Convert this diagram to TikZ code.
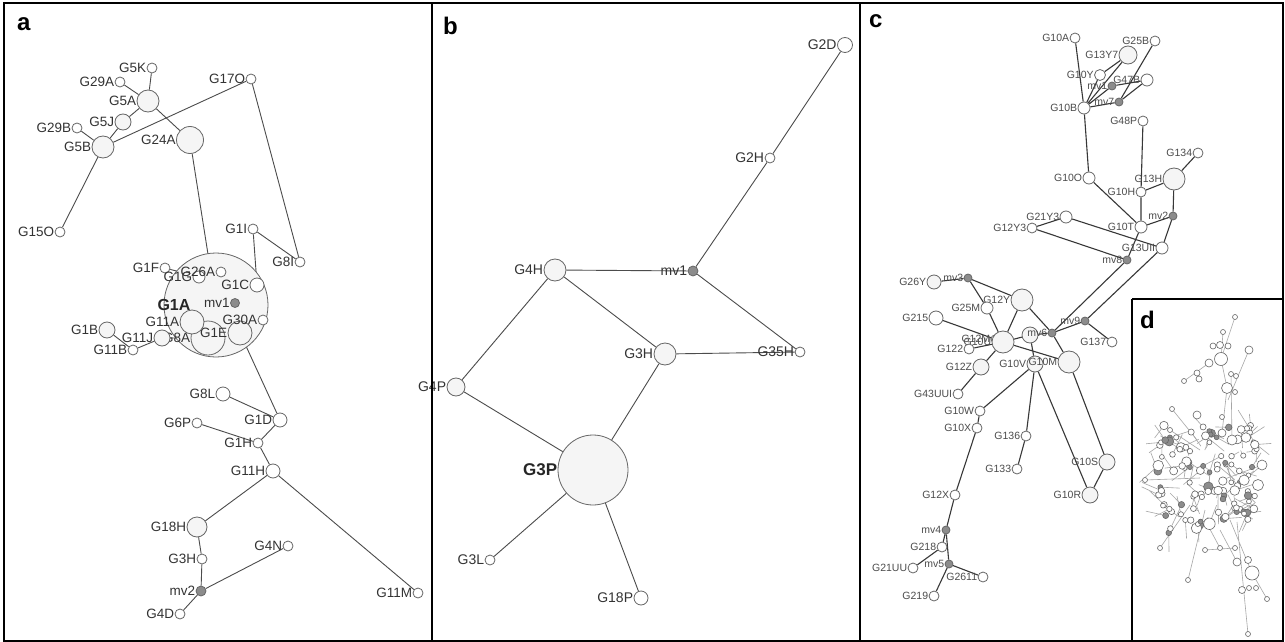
\documentclass[tikz,border=0pt]{standalone}
\usepackage{fontspec}
\setmainfont{Liberation Sans}
\usetikzlibrary{backgrounds}
\begin{document}
\begin{tikzpicture}[x=1pt,y=-1pt,
  nd/.style={circle,draw=black!60,line width=0.8pt,fill=white,inner sep=0pt,minimum size=#1},
  bg/.style={nd=#1,fill=black!4},
  mv/.style={nd=#1,fill=black!45},
  la/.style={font=\fontsize{13.5}{14}\selectfont,text=black!80,inner sep=0.3pt},
  lb/.style={font=\fontsize{14}{15}\selectfont,text=black!80,inner sep=0.3pt},
  lc/.style={font=\fontsize{10.5}{11}\selectfont,text=black!70,inner sep=0.3pt},
  ed/.style={draw=black!70,line width=0.9pt},
  edc/.style={draw=black!78,line width=1.1pt},
  dl/.style={draw=black!35,line width=0.6pt},
  dn/.style={draw=black!60,line width=0.6pt},
  frame/.style={draw=black,line width=2.5pt},
  letter/.style={font=\bfseries\fontsize{24}{26}\selectfont,anchor=base west,inner sep=0pt}]
\useasboundingbox (0,0) rectangle (1285,642);
\begin{scope}[on background layer]
\fill[white] (0,0) rectangle (1285,642);
\end{scope}

% ---------------- panel a ----------------
\node[nd=10pt,label={[la]left:G5K}] (a5K) at (152,68) {};
\node[nd=10pt,label={[la]left:G29A}] (a29A) at (120,82) {};
\node[bg=22pt,label={[la]left:G5A}] (a5A) at (148,101) {};
\node[bg=16pt,label={[la]left:G5J}] (a5J) at (123,122) {};
\node[nd=10pt,label={[la]left:G29B}] (a29B) at (77,128) {};
\node[bg=22pt,label={[la]left:G5B}] (a5B) at (103,147) {};
\node[bg=27pt,label={[la]left:G24A}] (a24A) at (190,140) {};
\node[nd=10pt,label={[la]left:G17O}] (a17O) at (251,79) {};
\node[nd=10pt,label={[la]left:G15O}] (a15O) at (60,232) {};
\node[nd=10pt,label={[la]left:G1I}] (a1I) at (253,229) {};
\node[nd=10pt,label={[la]left:G8I}] (a8I) at (300,262) {};
\node[bg=104pt,label={[font=\bfseries\fontsize{16}{17}\selectfont,text=black!85,inner sep=0pt,label distance=-27pt]left:G1A}] (a1A) at (216,305) {};
\node[nd=10pt,label={[la]left:G1F}] (a1F) at (165,268) {};
\node[nd=12pt,label={[la]left:G1G}] (a1G) at (199,277) {};
\node[nd=10pt,label={[la]left:G26A}] (a26A) at (221,272) {};
\node[nd=14pt,label={[la]left:G1C}] (a1C) at (257,285) {};
\node[mv=9pt,label={[la]left:mv1}] (amv1) at (235,303) {};
\node[bg=34pt,label={[la]left:G8A}] (a8A) at (208,338) {};
\node[bg=24pt,label={[la]left:G1E}] (a1E) at (240,333) {};
\node[bg=24pt,label={[la]left:G11A}] (a11A) at (192,322) {};
\node[nd=10pt,label={[la]left:G30A}] (a30A) at (263,320) {};
\node[bg=16pt,label={[la]left:G11J}] (a11J) at (162,338) {};
\node[bg=16pt,label={[la]left:G1B}] (a1B) at (107,330) {};
\node[nd=10pt,label={[la]left:G11B}] (a11B) at (133,350) {};
\node[nd=14pt,label={[la]left:G8L}] (a8L) at (223,394) {};
\node[nd=14pt,label={[la]left:G1D}] (a1D) at (280,420) {};
\node[nd=10pt,label={[la]left:G6P}] (a6P) at (197,423) {};
\node[nd=10pt,label={[la]left:G1H}] (a1H) at (258,443) {};
\node[nd=14pt,label={[la]left:G11H}] (a11H) at (273,471) {};
\node[bg=20pt,label={[la]left:G18H}] (a18H) at (197,527) {};
\node[nd=10pt,label={[la]left:G3H}] (a3H) at (202,559) {};
\node[nd=10pt,label={[la]left:G4N}] (a4N) at (288,546) {};
\node[mv=10pt,label={[la]left:mv2}] (amv2) at (201,591) {};
\node[nd=10pt,label={[la]left:G4D}] (a4D) at (180,614) {};
\node[nd=10pt,label={[la]left:G11M}] (a11M) at (418,593) {};

\begin{scope}[on background layer]
\draw[ed] (a5K)--(a5A) (a29A)--(a5A) (a5A)--(a5J) (a5J)--(a5B) (a29B)--(a5B)
  (a5A)--(a24A) (a5B)--(a17O) (a5B)--(a15O) (a17O)--(a8I) (a1I)--(a8I)
  (a1I)--(a1C) (a24A)--(a1A.center) (a1F)--(a1G) (a1B)--(a11B) (a11B)--(a11J)
  (a11J)--(a8A) (a1E)--(a1D) (a8L)--(a1D) (a1D)--(a1H) (a6P)--(a1H)
  (a1H)--(a11H) (a11H)--(a18H) (a11H)--(a11M) (a18H)--(a3H) (a3H)--(amv2)
  (amv2)--(a4N) (amv2)--(a4D);
\end{scope}

% ---------------- panel b ----------------
\node[nd=15pt,label={[lb]left:G2D}] (b2D) at (845,45) {};
\node[nd=10pt,label={[lb]left:G2H}] (b2H) at (770,158) {};
\node[mv=10pt,label={[lb]left:mv1}] (bmv1) at (693,271) {};
\node[bg=22pt,label={[lb]left:G4H}] (b4H) at (555,270) {};
\node[bg=22pt,label={[lb]left:G3H}] (b3H) at (665,354) {};
\node[nd=10pt,label={[lb]left:G35H}] (b35H) at (800,352) {};
\node[bg=18pt,label={[lb]left:G4P}] (b4P) at (456,387) {};
\node[bg=70pt,label={[font=\bfseries\fontsize{17}{18}\selectfont,text=black!85,inner sep=0.3pt]left:G3P}] (b3P) at (593,470) {};
\node[nd=10pt,label={[lb]left:G3L}] (b3L) at (490,560) {};
\node[nd=14pt,label={[lb]left:G18P}] (b18P) at (641,598) {};

\begin{scope}[on background layer]
\draw[ed] (b2D)--(b2H) (b2H)--(bmv1) (bmv1)--(b4H) (bmv1)--(b35H)
  (b4H)--(b3H) (b4H)--(b4P) (b3H)--(b35H) (b4P)--(b3P) (b3H)--(b3P)
  (b3P)--(b3L) (b3P)--(b18P);
\end{scope}

% ---------------- panel c ----------------
\node[nd=10pt,label={[lc]left:G10A}] (c10A) at (1075,38) {};
\node[nd=10pt,label={[lc]left:G25B}] (c25B) at (1155,41) {};
\node[bg=18pt,label={[lc]left:G13Y7}] (c13Y7) at (1128,55) {};
\node[nd=11pt,label={[lc]left:G10Y}] (c10Y) at (1100,75) {};
\node[mv=8pt,label={[lc]left:mv1}] (cmv1) at (1112,86) {};
\node[nd=12pt,label={[lc]left:G47B}] (c47B) at (1147,80) {};
\node[mv=8pt,label={[lc]left:mv7}] (cmv7) at (1119,102) {};
\node[nd=12pt,label={[lc]left:G10B}] (c10B) at (1084,108) {};
\node[nd=10pt,label={[lc]left:G48P}] (c48P) at (1143,121) {};
\node[nd=10pt,label={[lc]left:G134}] (c134) at (1198,153) {};
\node[bg=22pt,label={[lc]left:G13H}] (c13H) at (1174,179) {};
\node[nd=12pt,label={[lc]left:G10O}] (c10O) at (1089,178) {};
\node[nd=10pt,label={[lc]left:G10H}] (c10H) at (1141,192) {};
\node[nd=12pt,label={[lc]left:G21Y3}] (c21Y3) at (1066,217) {};
\node[nd=10pt,label={[lc]left:G12Y3}] (c12Y3) at (1032,228) {};
\node[nd=12pt,label={[lc]left:G10T}] (c10T) at (1141,227) {};
\node[mv=8pt,label={[lc]left:mv2}] (cmv2) at (1173,216) {};
\node[nd=12pt,label={[lc]left:G13UII}] (c13U) at (1162,248) {};
\node[mv=8pt,label={[lc]left:mv8}] (cmv8) at (1127,260) {};
\node[bg=14pt,label={[lc]left:G26Y}] (c26Y) at (934,282) {};
\node[mv=8pt,label={[lc]left:mv3}] (cmv3) at (968,278) {};
\node[bg=22pt,label={[lc]left:G12Y}] (c12Y) at (1022,300) {};
\node[nd=12pt,label={[lc]left:G25M}] (c25M) at (987,308) {};
\node[nd=14pt,label={[lc]left:G215}] (c215) at (936,318) {};
\node[nd=8pt,label={[lc]left:G12M}] (c12M) at (995,339) {};
\node[bg=22pt,label={[lc]left:G10U}] (c10U) at (1003,342) {};
\node[nd=10pt,label={[lc]left:G122}] (c122) at (969,349) {};
\node[bg=16pt,label={[lc]left:G12Z}] (c12Z) at (981,367) {};
\node[bg=16pt] (cu) at (1030,335) {};
\node[mv=8pt,label={[lc]left:mv6}] (cmv6) at (1052,333) {};
\node[mv=8pt,label={[lc]left:mv9}] (cmv9) at (1085,321) {};
\node[nd=10pt,label={[lc]left:G137}] (c137) at (1112,342) {};
\node[bg=16pt,label={[lc]left:G10V}] (c10V) at (1035,364) {};
\node[bg=22pt,label={[lc]left:G10M}] (c10M) at (1069,362) {};
\node[nd=10pt,label={[lc]left:G43UUI}] (c43) at (958,394) {};
\node[nd=10pt,label={[lc]left:G10W}] (c10W) at (980,411) {};
\node[nd=10pt,label={[lc]left:G10X}] (c10X) at (977,428) {};
\node[nd=10pt,label={[lc]left:G136}] (c136) at (1026,436) {};
\node[bg=16pt,label={[lc]left:G10S}] (c10S) at (1107,462) {};
\node[nd=10pt,label={[lc]left:G133}] (c133) at (1017,469) {};
\node[bg=16pt,label={[lc]left:G10R}] (c10R) at (1090,495) {};
\node[nd=10pt,label={[lc]left:G12X}] (c12X) at (955,495) {};
\node[mv=8pt,label={[lc]left:mv4}] (cmv4) at (946,530) {};
\node[nd=10pt,label={[lc]left:G218}] (c218) at (942,547) {};
\node[mv=8pt,label={[lc]left:mv5}] (cmv5) at (949,564) {};
\node[nd=10pt,label={[lc]left:G21UU}] (c21UU) at (913,568) {};
\node[nd=10pt,label={[lc]left:G2611}] (c2611) at (983,577) {};
\node[nd=10pt,label={[lc]left:G219}] (c219) at (934,596) {};

\begin{scope}[on background layer]
\draw[edc] (c10A)--(c10B) (c10B)--(c10Y) (c10Y)--(c13Y7) (c10B)--(c13Y7)
  (c10B)--(cmv1) (cmv1)--(c47B) (c10B)--(cmv7) (cmv7)--(c47B) (c25B)--(cmv7)
  (c10B)--(c10O) (c10O)--(c10T) (c48P)--(c10H) (c10H)--(c10T) (c10H)--(c13H)
  (c134)--(c13H) (c13H)--(cmv2) (c10T)--(cmv2) (cmv2)--(c13U)
  (c21Y3)--(c12Y3) (c21Y3)--(c13U) (c12Y3)--(cmv8) (c10T)--(cmv8)
  (cmv8)--(cmv6) (c13U)--(cmv9) (cmv9)--(cmv6) (cmv9)--(c137)
  (c26Y)--(cmv3) (cmv3)--(c12Y) (cmv3)--(c25M) (c25M)--(c10U) (c12Y)--(c10U)
  (c12Y)--(cmv6) (c215)--(c10U) (c122)--(c10U) (c12Z)--(c10U) (c10U)--(cu)
  (cu)--(cmv6) (cu)--(c10V) (c10U)--(c10M) (cmv6)--(c10M)
  (c10V)--(c10W) (c10V)--(c136) (c10V)--(c10R) (c10M)--(c10S) (c10S)--(c10R)
  (c136)--(c133) (c43)--(c12Z) (c10W)--(c10X) (c10X)--(c12X) (c12X)--(cmv4)
  (cmv4)--(cmv5) (c218)--(cmv4) (c21UU)--(c218) (cmv5)--(c2611) (cmv5)--(c219);
\end{scope}

% ---------------- panel d ----------------
\fill[white] (1132,299) rectangle (1284,642);
\draw[dl] (1235,317)--(1221,359) (1223,332)--(1221,359) (1249,350)--(1228,400)
  (1221,359)--(1227,388) (1227,388)--(1222,433) (1209,363)--(1184,381)
  (1231,374)--(1232,440) (1145,480)--(1200,478) (1237,522)--(1248,634)
  (1205,510)--(1188,580) (1190,505)--(1160,548) (1205,550)--(1235,548)
  (1230,520)--(1252,573) (1252,573)--(1267,599) (1222,480)--(1262,465)
  (1172,409)--(1197,440) (1170,430)--(1200,450) (1220,530)--(1237,562)
  (1220,548)--(1205,520);
\pgfmathsetseed{11}
\foreach \i in {1,...,115}{
  \pgfmathsetmacro\px{1207+50*rand}
  \pgfmathsetmacro\py{480+55*rand}
  \pgfmathsetmacro\qx{\px+20*rand}
  \pgfmathsetmacro\qy{\py+20*rand}
  \pgfmathsetmacro\rr{2.4+3.6*rnd*rnd}
  \pgfmathsetmacro\gg{rnd<0.22 ? 45 : 0}
  \draw[dl] (\px,\py)--(\qx,\qy);
}
\pgfmathsetseed{11}
\foreach \i in {1,...,115}{
  \pgfmathsetmacro\px{1207+50*rand}
  \pgfmathsetmacro\py{480+55*rand}
  \pgfmathsetmacro\qx{\px+20*rand}
  \pgfmathsetmacro\qy{\py+20*rand}
  \pgfmathsetmacro\rr{2.4+3.6*rnd*rnd}
  \pgfmathsetmacro\gg{rnd<0.22 ? 45 : 0}
  \draw[dn,fill=black!\gg] (\px,\py) circle[radius=\rr pt];
}
\foreach \x/\y/\r in {1235/317/2.5, 1223/332/2.5, 1213/346/3, 1220/345/3.5,
  1228/346/3, 1221/359/6.5, 1249/350/4, 1209/363/4, 1197/373/3, 1199/379/3,
  1184/381/2.5, 1227/388/5.5, 1235/392/2.5, 1231/374/2.5, 1236/376/2.5,
  1222/417/2.5, 1172/409/2.5, 1197/415/4, 1170/430/2.5, 1222/433/4,
  1232/440/5, 1145/480/2.5, 1262/465/5, 1258/485/5.5, 1160/548/2.5,
  1205/550/2.5, 1220/548/2.5, 1235/548/2.5, 1188/580/2.5, 1252/573/7,
  1242/590/3.5, 1249/588/2.5, 1256/588/2.5, 1267/599/2.5, 1248/634/2.5,
  1237/562/4, 1248/560/3.5}{
  \draw[dn,fill=white] (\x,\y) circle[radius=\r pt];
}

% ---------------- frames and letters ----------------
\draw[frame] (4,3) rectangle (432,641);
\draw[frame] (432,3) rectangle (860,641);
\draw[frame] (860,3) rectangle (1283,641);
\draw[frame] (1132,299) -- (1283,299) (1132,299) -- (1132,641);
\node[letter] (la) at (17,31) {a};
\node[letter] (lb) at (443,35) {b};
\node[letter] (lc) at (869,28) {c};
\node[letter] (ld) at (1140,328) {d};
\end{tikzpicture}
\end{document}
